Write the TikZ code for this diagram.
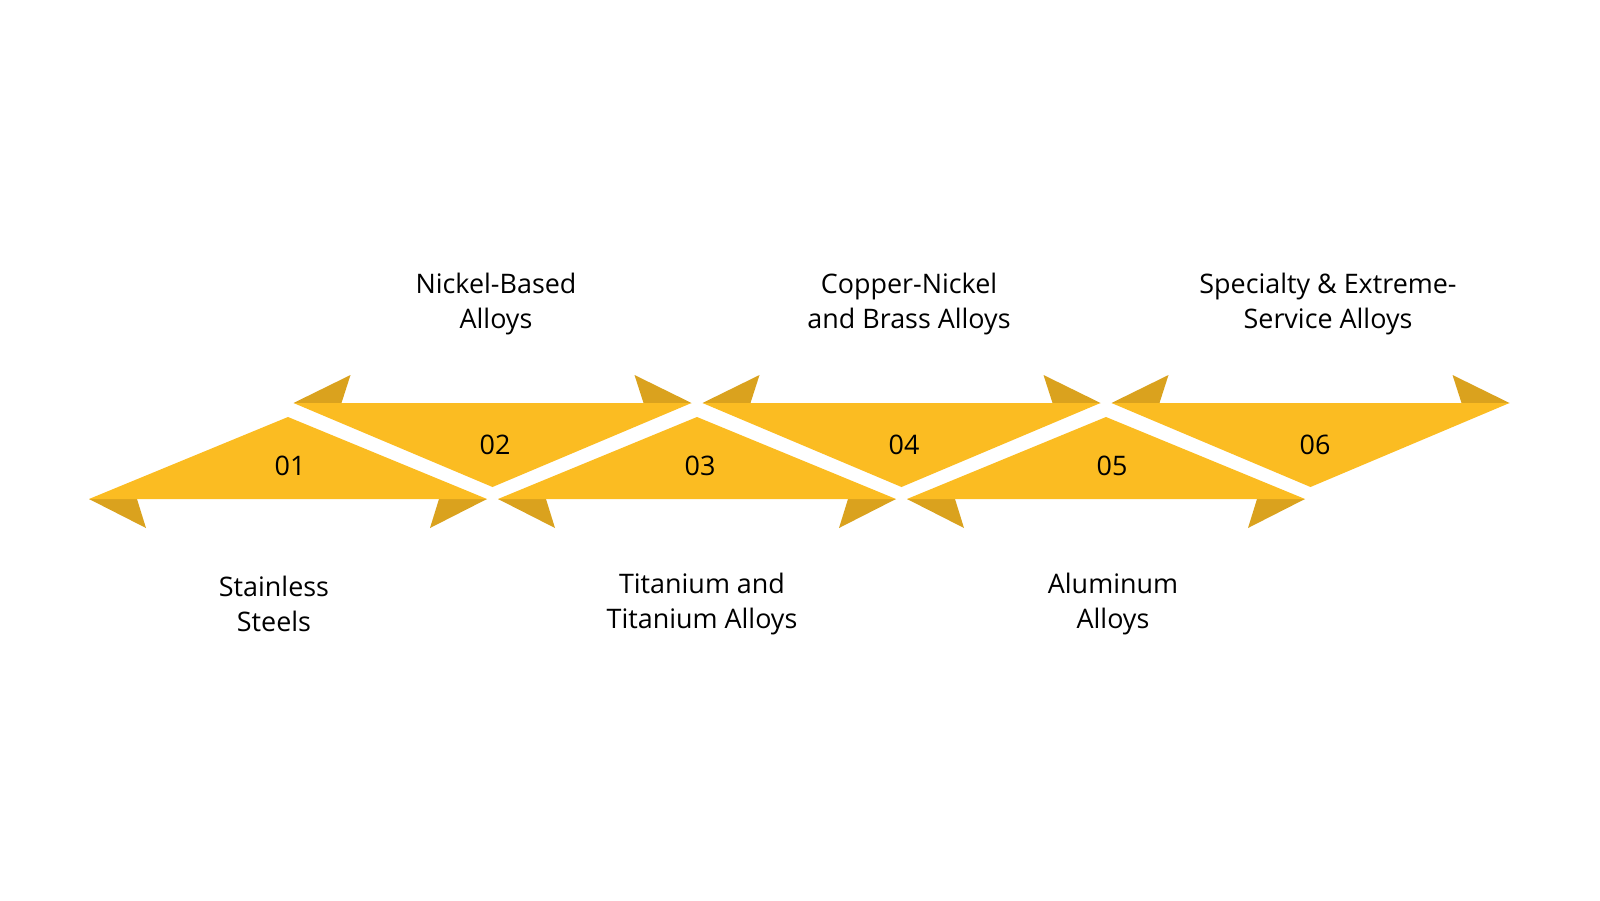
\documentclass[tikz,border=0pt]{standalone}
\usepackage{fontspec}
\setmainfont{Open Sans}
\definecolor{ylw}{HTML}{FBBC22}
\definecolor{dk}{HTML}{DAA21E}
\begin{document}
\begin{tikzpicture}[x=1bp,y=-1bp,
  lbl/.style={font=\fontsize{27}{35}\selectfont, align=center, text=black},
  num/.style={font=\fontsize{27}{32}\selectfont, text=black}]
\useasboundingbox (0,0) rectangle (1600,900);
\foreach \i in {0,2,4}{
  \pgfmathsetmacro{\c}{288+204.5*\i}
  \fill[dk] (\c-199,499) -- (\c-142,528) -- (\c-151,499) -- cycle;
  \fill[dk] (\c+199,499) -- (\c+142,528) -- (\c+151,499) -- cycle;
  \fill[ylw] (\c-199,499) -- (\c,417) -- (\c+199,499) -- cycle;
}
\foreach \i in {1,3,5}{
  \pgfmathsetmacro{\c}{288+204.5*\i}
  \fill[dk] (\c-199,403) -- (\c-142,375) -- (\c-151,403) -- cycle;
  \fill[dk] (\c+199,403) -- (\c+142,375) -- (\c+151,403) -- cycle;
  \fill[ylw] (\c-199,403) -- (\c,487) -- (\c+199,403) -- cycle;
}
\node[num] (n1) at (290,466) {01};
\node[num] (n2) at (495,445) {02};
\node[num] (n3) at (700,466) {03};
\node[num] (n4) at (904,445) {04};
\node[num] (n5) at (1112,466) {05};
\node[num] (n6) at (1315,445) {06};
\node[lbl] (l1) at (274,604) {Stainless\\Steels};
\node[lbl] (l2) at (496,304) {Nickel-Based\\Alloys};
\node[lbl] (l3) at (702,604) {Titanium and\\Titanium Alloys};
\node[lbl] (l4) at (909,304) {Copper-Nickel\\and Brass Alloys};
\node[lbl] (l5) at (1113,604) {Aluminum\\Alloys};
\node[lbl] (l6) at (1328,304) {Specialty \& Extreme-\\Service Alloys};
\end{tikzpicture}
\end{document}
